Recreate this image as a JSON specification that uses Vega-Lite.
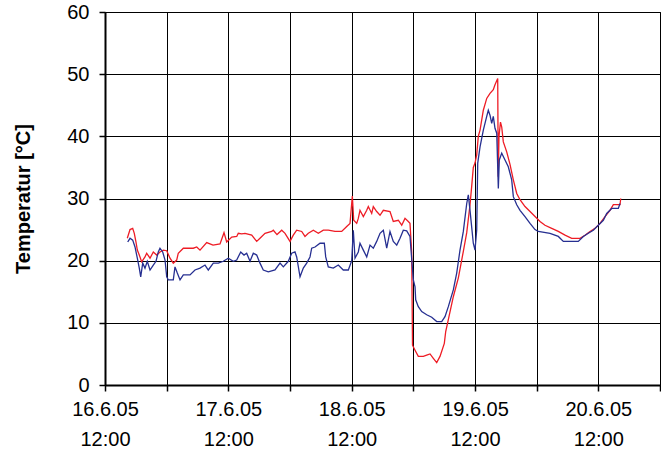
{
  "$schema": "https://vega.github.io/schema/vega-lite/v6.json",
  "autosize": {"type": "none"},
  "padding": {"left": 105, "top": 12, "right": 1, "bottom": 68},
  "width": 555,
  "height": 373,
  "background": "white",
  "datasets": {
    "rot": [
      [16.34,23.6],[16.87,25.0],[17.39,25.2],[17.70,24.4],[18.03,23.0],[18.29,21.7],[18.67,20.9],[19.14,19.8],[19.78,20.6],[20.11,21.2],[20.76,20.4],[21.40,21.4],[22.06,20.9],[22.70,21.4],[23.35,21.7],[24.01,21.6],[24.65,20.4],[25.29,19.6],[25.95,20.1],[26.26,21.2],[27.24,22.0],[29.18,22.0],[29.85,22.2],[30.49,21.7],[31.79,22.9],[33.02,22.5],[34.38,22.7],[35.16,24.5],[35.68,23.0],[36.66,23.8],[37.63,23.9],[37.94,24.4],[38.60,24.3],[39.24,24.4],[40.55,24.1],[41.52,23.1],[42.16,23.6],[43.14,24.4],[44.44,24.7],[44.75,24.9],[45.47,24.2],[46.39,24.9],[47.03,24.4],[48.00,23.1],[48.64,24.1],[49.30,24.9],[50.28,24.7],[50.92,23.9],[51.56,24.4],[52.54,24.9],[53.51,24.4],[54.48,24.9],[55.45,24.9],[56.76,24.7],[58.06,24.7],[59.04,25.5],[59.68,26.0],[60.13,30.4],[60.40,26.5],[60.98,26.0],[61.29,26.8],[61.62,28.1],[62.27,27.1],[62.93,28.1],[63.24,28.7],[63.90,27.6],[64.21,28.7],[64.87,27.9],[65.52,27.3],[66.16,28.1],[67.46,27.9],[68.10,26.3],[69.08,26.5],[69.74,25.7],[70.38,26.8],[71.02,26.3],[71.35,26.0],[71.68,21.4],[71.84,6.4],[72.33,5.6],[72.97,4.6],[73.94,4.6],[74.60,4.8],[75.25,5.0],[75.89,4.3],[76.55,3.6],[77.19,4.6],[78.03,6.7],[78.30,8.6],[78.81,10.5],[79.78,14.2],[80.75,17.2],[81.73,21.5],[82.39,24.5],[83.03,29.0],[83.36,32.0],[83.67,35.0],[84.00,35.7],[84.33,37.0],[84.64,40.0],[84.98,41.0],[85.62,44.2],[86.28,46.1],[86.92,46.9],[87.56,47.5],[87.89,48.3],[88.42,49.3],[88.52,33.5],[88.67,40.0],[88.96,42.3],[89.20,41.5],[89.51,39.1],[90.17,37.5],[90.81,35.5],[91.46,33.0],[92.12,30.8],[92.76,29.8],[93.73,28.7],[94.71,27.9],[95.68,27.1],[96.65,26.3],[97.62,25.7],[98.93,25.2],[100.21,24.7],[101.52,24.1],[102.82,23.6],[104.44,23.6],[105.41,24.1],[106.38,24.7],[107.35,25.2],[108.33,26.0],[109.30,27.1],[110.27,28.1],[110.92,29.0],[112.22,29.0],[112.36,30.0]
    ],
    "blau": [
      [16.42,23.0],[16.87,23.6],[17.39,23.3],[17.84,22.2],[18.29,20.4],[18.67,18.8],[18.95,17.4],[19.34,19.6],[19.78,18.8],[20.23,19.9],[20.76,18.5],[21.40,19.3],[21.92,19.9],[22.37,21.4],[22.70,22.0],[23.23,21.4],[23.68,20.1],[24.01,17.4],[24.32,16.9],[25.29,16.9],[25.62,19.0],[26.07,18.0],[26.60,16.9],[27.24,17.7],[28.54,17.7],[29.51,18.5],[30.49,18.8],[31.46,19.3],[32.10,18.5],[33.08,19.6],[34.05,19.6],[35.02,19.9],[35.99,20.4],[36.97,19.9],[37.63,20.1],[38.41,21.4],[39.05,20.9],[39.57,21.2],[40.22,19.9],[40.86,21.2],[41.52,20.9],[42.16,19.6],[42.80,18.5],[43.78,18.2],[45.08,18.5],[46.06,19.6],[46.70,19.0],[47.67,19.9],[48.33,21.2],[48.97,21.4],[49.30,20.6],[49.95,17.4],[50.59,18.8],[51.25,19.6],[51.89,20.6],[52.22,22.0],[52.87,22.2],[53.84,22.8],[54.68,22.8],[54.95,20.6],[55.45,19.0],[56.43,18.8],[57.40,19.3],[58.37,18.5],[59.35,18.5],[60.01,20.0],[60.32,24.9],[60.65,20.4],[61.29,21.4],[61.62,22.8],[62.27,21.7],[62.93,20.6],[63.57,22.5],[64.21,22.0],[64.87,23.1],[65.52,24.4],[66.16,24.9],[66.82,22.0],[67.46,24.7],[68.10,23.1],[68.77,22.5],[69.41,23.6],[70.05,24.9],[70.71,24.8],[71.35,23.9],[71.68,20.3],[72.00,16.9],[72.33,15.8],[72.46,13.7],[72.97,12.6],[73.63,11.8],[74.60,11.3],[75.58,10.9],[76.55,10.2],[77.52,10.2],[78.16,11.0],[78.81,12.6],[79.78,15.3],[80.44,18.0],[81.08,21.7],[81.73,24.7],[82.39,29.2],[82.70,30.6],[83.03,28.1],[83.67,22.8],[84.00,21.7],[84.33,24.9],[84.53,35.7],[84.98,38.3],[85.62,41.0],[86.28,43.2],[86.59,44.2],[86.92,43.4],[87.25,42.1],[87.56,43.2],[87.89,41.3],[88.23,40.5],[88.54,31.6],[88.73,36.2],[89.20,37.3],[89.84,36.2],[90.48,35.1],[91.14,33.0],[91.46,30.3],[92.12,29.0],[92.76,28.1],[93.73,27.1],[94.71,26.0],[95.68,25.0],[96.32,24.7],[98.60,24.4],[100.21,23.9],[101.19,23.1],[104.10,23.1],[105.08,23.9],[106.05,24.4],[107.02,24.9],[108.00,25.7],[108.97,26.5],[109.63,27.6],[110.60,28.4],[111.89,28.4],[112.22,29.2]
    ]
  },
  "layer": [
    {
      "data": {"name": "rot"},
      "transform": [{"calculate": "datum[0]", "as": "Stunde"}, {"calculate": "datum[1]", "as": "Temperatur"}],
      "mark": {"type": "line", "color": "#ee1c25", "strokeWidth": 1.3, "clip": true},
      "encoding": {
        "x": {"field": "Stunde", "type": "quantitative"},
        "y": {"field": "Temperatur", "type": "quantitative"}
      }
    },
    {
      "data": {"name": "blau"},
      "transform": [{"calculate": "datum[0]", "as": "Stunde"}, {"calculate": "datum[1]", "as": "Temperatur"}],
      "mark": {"type": "line", "color": "#262f91", "strokeWidth": 1.3, "clip": true},
      "encoding": {
        "x": {
          "field": "Stunde", "type": "quantitative",
          "scale": {"domain": [12, 120], "nice": false, "zero": false},
          "axis": {
            "title": null,
            "values": [12,24,36,48,60,72,84,96,108,120],
            "labelExpr": "datum.value % 24 == 12 ? [(16 + floor(datum.value / 24)) + '.6.05', '12:00'] : ''",
            "labelLineHeight": 30,
            "labelPadding": 8,
            "labelFlush": false,
            "labelOverlap": false
          }
        },
        "y": {
          "field": "Temperatur", "type": "quantitative",
          "scale": {"domain": [0, 60], "nice": false},
          "axis": {
            "title": "Temperatur [°C]",
            "values": [0,10,20,30,40,50,60],
            "labelPadding": 10,
            "titlePadding": 33,
            "titleFontWeight": "bold",
            "titleFontSize": 20
          }
        }
      }
    }
  ],
  "config": {
    "view": {"stroke": "black", "strokeWidth": 1},
    "font": "Liberation Sans",
    "axis": {
      "domainColor": "black",
      "domainWidth": 2,
      "gridColor": "black",
      "gridOpacity": 1,
      "gridWidth": 1,
      "tickColor": "black",
      "tickSize": 6,
      "tickWidth": 1.5,
      "labelFont": "Liberation Sans",
      "labelFontSize": 20,
      "labelColor": "black",
      "titleFont": "Liberation Sans",
      "titleColor": "black"
    }
  }
}
